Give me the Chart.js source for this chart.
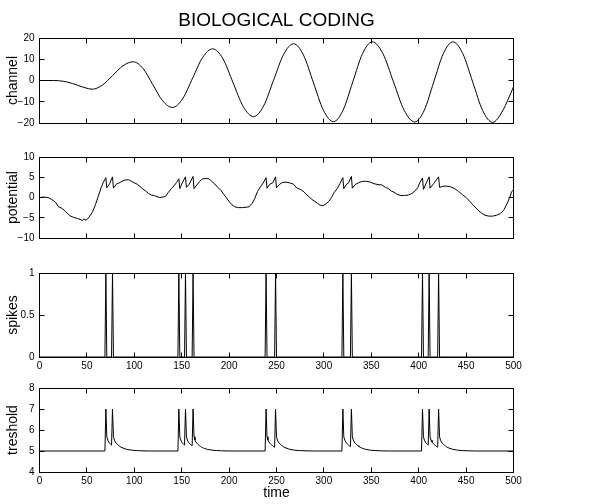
<!DOCTYPE html>
<html>
<head>
<meta charset="utf-8">
<script src="https://cdn.jsdelivr.net/npm/chart.js@4.4.0/dist/chart.umd.min.js"></script>
<style>
html,body{margin:0;padding:0;background:#fff;}
#wrap{position:relative;width:605px;height:504px;overflow:hidden;background:#fff;}
canvas{position:absolute;left:0;}
</style>
</head>
<body>
<div id="wrap">
<canvas id="c1" width="605" height="134" style="top:0px;width:605px;height:134px"></canvas>
<canvas id="c2" width="605" height="103" style="top:146px;width:605px;height:103px"></canvas>
<canvas id="c3" width="605" height="113" style="top:262px;width:605px;height:113px"></canvas>
<canvas id="c4" width="605" height="127" style="top:377px;width:605px;height:127px"></canvas>
</div>
<script>
// ---- data ----
const chartTitle = 'BIOLOGICAL CODING';
const timeTicks = [0, 50, 100, 150, 200, 250, 300, 350, 400, 450, 500];

const channelTicks = [-20, -10, 0, 10, 20];
const channelX = [0, 10, 20, 30, 40, 48, 55.5,
  66.3, 77.2, 88, 98.8,
  109.2, 119.5, 129.9, 140.3,
  150.9, 161.5, 172.1, 182.7,
  193.5, 204.2, 215, 225.8,
  236.4, 246.9, 257.5, 268,
  278.5, 289, 299.5, 310,
  320.3, 330.5, 340.8, 351,
  362.2, 373.4, 384.6, 395.8,
  405.9, 415.9, 426, 436,
  446.5, 457, 467.5, 478,
  488.5, 500];
const channelY = [0, 0, -0.1, -0.8, -2.2, -3.4, -4.1,
  -2.2, 2.35, 6.9, 8.8,
  5.65, -1.95, -9.55, -12.7,
  -8.66, 1.1, 10.86, 14.9,
  10.23, -1.05, -12.33, -17,
  -11.98, 0.15, 12.28, 17.3,
  11.92, -1.05, -14.02, -19.4,
  -13.89, -0.6, 12.69, 18.2,
  12.68, -0.65, -13.98, -19.5,
  -13.98, -0.65, 12.68, 18.2,
  12.65, -0.75, -14.15, -19.7,
  -14.3, -3];

const potentialTicks = [-10, -5, 0, 5, 10];
const potentialX = [0, 5, 9, 13, 17, 20, 23, 26, 29, 32, 36, 40, 43, 45, 47, 49, 51, 53, 56, 59, 62, 65, 67,
  70, 71, 74, 77, 78, 81, 84, 87, 90, 94, 97, 100, 103, 106, 109, 112, 115, 118, 121, 124, 127, 130, 133, 136, 139, 142, 144.5,
  147, 148, 150, 154, 155, 158, 162, 163, 166, 169, 172, 176, 179, 182, 185, 188, 191, 194, 197, 200, 203, 206, 210, 214, 218, 221, 224, 227, 230, 233, 236,
  239, 240, 243, 246, 249, 250, 253, 256, 260, 264, 268, 271, 275, 278, 281, 284, 287, 290, 293, 296, 299, 302, 305, 308, 311, 314, 317,
  320, 321, 324, 326, 329, 330, 333, 337, 341, 345, 349, 353, 357, 361, 365, 368, 371, 374, 377, 381, 385, 389, 393, 396, 399, 401,
  404, 405, 408, 411, 412, 416, 421, 422, 426, 430, 434, 438, 442, 446, 450, 454, 458, 462, 466, 470, 474, 478, 482, 486, 490, 493, 496, 498, 500];
const potentialY = [0, 0.1, 0, -0.5, -1.2, -2.3, -2.6, -3.1, -3.8, -4.5, -4.9, -5.2, -5.4, -5.7, -5.3, -5.6, -5.2, -4.6, -3.5, -1.8, 0.3, 2.4, 3.6,
  4.9, 2.4, 3.4, 5.1, 2.3, 3.3, 3.6, 4.0, 4.3, 4.4, 4.0, 3.6, 3.3, 2.7, 2.1, 1.6, 1.0, 0.6, 0.5, 0.2, 0.0, 0.1, 0.3, 1.3, 2.2, 2.9, 3.7,
  4.6, 2.2, 3.3, 5.1, 2.5, 3.3, 5.2, 2.2, 3.1, 4.0, 4.6, 4.7, 4.6, 3.9, 3.3, 2.5, 1.9, 0.9, 0.0, -1.0, -1.8, -2.3, -2.5, -2.5, -2.4, -2.3, -1.5, -0.3, 1.5, 2.6, 3.6,
  4.9, 2.3, 3.3, 3.6, 5.1, 2.4, 3.2, 3.7, 3.8, 3.6, 3.3, 2.4, 2.0, 1.6, 0.9, 0.2, -0.4, -0.9, -1.4, -1.9, -2.0, -1.6, -1.0, 0.0, 1.3, 2.2, 3.5,
  4.9, 2.2, 3.3, 3.6, 5.2, 2.3, 3.2, 3.7, 4.0, 4.0, 3.8, 3.4, 3.2, 3.1, 2.5, 2.2, 1.6, 1.3, 0.8, 0.5, 0.5, 0.6, 1.0, 1.6, 2.4, 3.6,
  4.8, 2.0, 3.6, 5.1, 2.3, 3.5, 5.1, 2.5, 2.8, 2.8, 2.6, 2.2, 1.5, 0.7, 0.0, -1.0, -2.0, -3.0, -3.8, -4.4, -4.6, -4.6, -4.4, -4.0, -3.0, -1.6, 0.0, 1.4, 1.9];

const spikeTicks = [0, 0.5, 1];
const spikeTimes = [70, 77, 147, 154, 162, 239, 249, 320, 329, 404, 411, 421];

const tresholdTicks = [4, 5, 6, 7, 8];
const tresholdRest = 5;
const tresholdDecayOffset = [0, 1, 2, 3, 4, 5, 6, 7, 8, 9, 10, 11, 12, 15, 20, 25, 30, 40];
const tresholdDecayValue  = [7, 5.68, 5.52, 5.43, 5.37, 5.32, 5.28, 5.25, 5.21, 5.18, 5.16, 5.14, 5.12, 5.08, 5.04, 5.02, 5.01, 5.0];

// ---- build point tables ----
const toPts = (xs, ys) => xs.map((x, i) => ({x: x, y: ys[i]}));

const spikePts = [{x: 0, y: 0}];
spikeTimes.forEach(t => { spikePts.push({x: t - 1, y: 0}, {x: t, y: 1}, {x: t + 1, y: 0}); });
spikePts.push({x: 500, y: 0});

const tresholdPts = [{x: 0, y: tresholdRest}, {x: spikeTimes[0] - 1, y: tresholdRest}];
spikeTimes.forEach((t, k) => {
  const next = k + 1 < spikeTimes.length ? spikeTimes[k + 1] : 501;
  let last = null;
  tresholdDecayOffset.forEach((o, j) => {
    if (t + o < next) { last = {x: t + o, y: tresholdDecayValue[j]}; tresholdPts.push(last); }
  });
  if (last && last.x < next - 1) tresholdPts.push({x: Math.min(next - 1, 500), y: last.y});
});

// ---- drawing ----
Chart.defaults.font.family = '"Liberation Sans", Arial, Helvetica, sans-serif';
Chart.defaults.color = '#000';

const framePlugin = {
  id: 'frame',
  afterDraw(chart) {
    const {ctx, chartArea: a, scales} = chart;
    const snap = v => Math.floor(v) + 0.5;
    const L = snap(a.left), R = snap(a.right), T = snap(a.top), B = snap(a.bottom);
    const tl = 5;
    ctx.save();
    ctx.strokeStyle = '#000';
    ctx.lineWidth = 1;
    ctx.beginPath();
    scales.x.ticks.forEach(t => {
      const p = snap(scales.x.getPixelForValue(t.value));
      ctx.moveTo(p, T); ctx.lineTo(p, T + tl);
      ctx.moveTo(p, B); ctx.lineTo(p, B - tl);
    });
    scales.y.ticks.forEach(t => {
      const p = snap(scales.y.getPixelForValue(t.value));
      ctx.moveTo(L, p); ctx.lineTo(L + tl, p);
      ctx.moveTo(R, p); ctx.lineTo(R - tl, p);
    });
    ctx.stroke();
    ctx.strokeRect(L, T, R - L, B - T);
    ctx.restore();
  }
};

const fmt = v => (v < 0 ? '\u2212' : '') + Math.abs(v);

function panel(id, opts) {
  const yt = opts.yTicks;
  const scales = {
    x: {
      type: 'linear', min: 0, max: 500,
      afterBuildTicks: s => { s.ticks = timeTicks.map(v => ({value: v})); },
      afterFit: s => { s.height = opts.xHeight; },
      grid: {display: false, drawTicks: false},
      border: {display: false},
      ticks: {display: opts.xLabels, padding: 3, font: {size: 10}, maxRotation: 0, autoSkip: false, callback: v => fmt(v)},
      title: opts.xTitle ? {display: true, text: opts.xTitle, font: {size: 14}, padding: {top: 0, bottom: 2}} : {display: false}
    },
    y: {
      type: 'linear', min: yt[0], max: yt[yt.length - 1],
      afterBuildTicks: s => { s.ticks = yt.map(v => ({value: v})); },
      afterFit: s => { s.width = 39.5; },
      grid: {display: false, drawTicks: false},
      border: {display: false},
      ticks: {padding: 5, font: {size: 10}, autoSkip: false, callback: v => fmt(v)},
      title: {display: true, text: opts.yTitle, font: {size: 14}, padding: {top: 5, bottom: 0}}
    }
  };
  if (opts.title) {
    // top axis carrying the figure title, centred over the plot area
    scales.top = {
      type: 'linear', position: 'top', min: 0, max: 500,
      afterFit: s => { s.height = 38; },
      grid: {display: false, drawTicks: false},
      border: {display: false},
      ticks: {display: false},
      title: {display: true, text: opts.title, color: '#000', font: {size: 19}, padding: {top: 9.6, bottom: 0}}
    };
  }
  return new Chart(document.getElementById(id), {
    type: 'line',
    data: {datasets: [{
      data: opts.points,
      borderColor: '#000',
      borderWidth: 1,
      pointRadius: 0,
      fill: false,
      tension: 0,
      cubicInterpolationMode: opts.smooth ? 'monotone' : 'default'
    }]},
    options: {
      responsive: false,
      animation: false,
      events: [],
      layout: {padding: {left: 0, right: 91.5, top: opts.padTop, bottom: 0}},
      plugins: {legend: {display: false}, tooltip: {enabled: false}, title: {display: false}},
      scales: scales
    },
    plugins: [framePlugin]
  });
}

panel('c1', {points: toPts(channelX, channelY), smooth: true, yTicks: channelTicks, yTitle: 'channel',
  title: chartTitle, padTop: 0, xHeight: 8, xLabels: false});
panel('c2', {points: toPts(potentialX, potentialY), smooth: false, yTicks: potentialTicks, yTitle: 'potential',
  padTop: 8, xHeight: 8, xLabels: false});
panel('c3', {points: spikePts, smooth: false, yTicks: spikeTicks, yTitle: 'spikes',
  padTop: 8, xHeight: 18, xLabels: true});
panel('c4', {points: tresholdPts, smooth: false, yTicks: tresholdTicks, yTitle: 'treshold',
  padTop: 8, xHeight: 32, xLabels: true, xTitle: 'time'});
</script>
</body>
</html>
